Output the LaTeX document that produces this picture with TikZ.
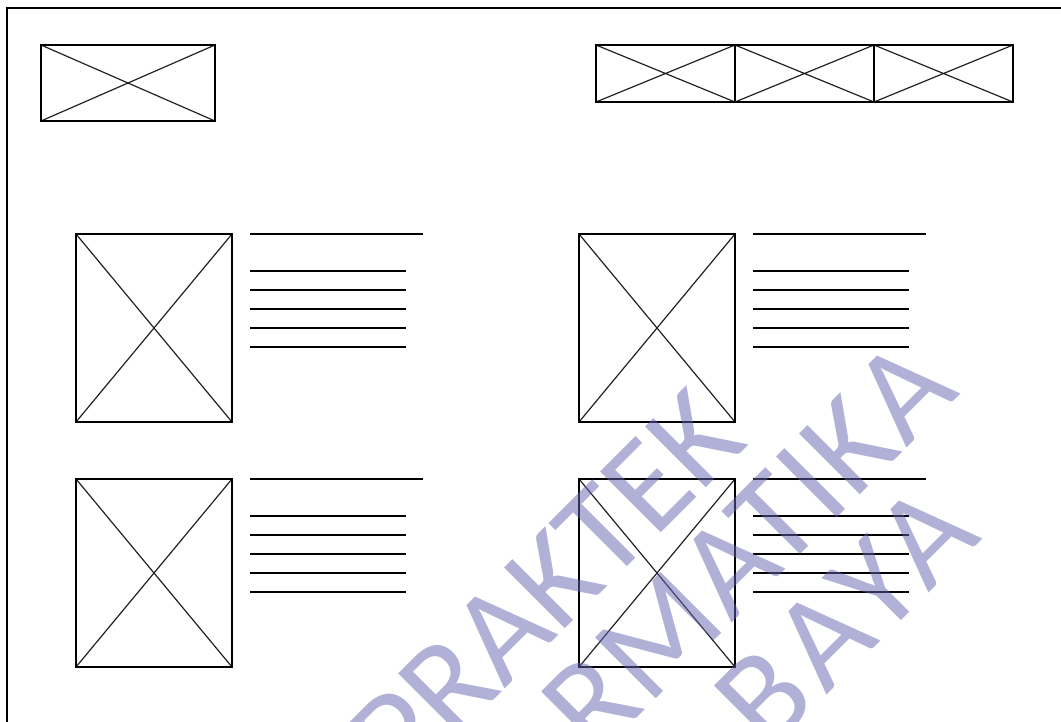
\documentclass[tikz,border=0pt]{standalone}
\usepackage{fontspec}
\usepackage{xcolor}
\usepackage{tikz}
\usetikzlibrary{positioning,calc}
\newfontfamily\wmfont{Carlito}
\definecolor{WmPurple}{RGB}{101,101,178}
\definecolor{CrossGray}{HTML}{222222}

\begin{document}
\begin{tikzpicture}[
    x=1pt, y=-1pt,
    imgbox/.style={draw=black, line width=1.3pt, inner sep=0pt, outer sep=0pt,
        path picture={\draw[CrossGray, line width=1.2pt]
            (path picture bounding box.north west) -- (path picture bounding box.south east)
            (path picture bounding box.south west) -- (path picture bounding box.north east);}},
    logo/.style={imgbox, minimum width=174pt, minimum height=76pt},
    slide/.style={imgbox, minimum width=139pt, minimum height=57pt},
    photo/.style={imgbox, minimum width=156pt, minimum height=188pt},
    rule/.style={line width=1.4pt, draw=black},
    wmark/.style={font=\wmfont\fontsize{134}{134}\selectfont, text=WmPurple, opacity=0.5, inner sep=0pt, rotate=45}
]
\useasboundingbox (0,0) rectangle (1061,722);
\clip (0,0) rectangle (1061,722);
\fill[white] (0,0) rectangle (1061,722);

% page frame
\draw[line width=1.3pt] (7,8) rectangle (1090,760);

% header: logo and slider
\node[logo, anchor=north west] (logo) at (41,45) {};
\node[slide, anchor=north west] (slideA) at (596,45) {};
\node[slide, right=0pt of slideA] (slideB) {};
\node[slide, right=0pt of slideB] (slideC) {};

% content grid
\node[photo, anchor=north west] (photoA) at (76,234) {};
\node[photo, right=347pt of photoA] (photoB) {};
\node[photo, below=57pt of photoA] (photoC) {};
\node[photo, right=347pt of photoC] (photoD) {};

% text lines beside each photo
\foreach \p in {photoA,photoB,photoC,photoD} {
    \draw[rule] ($(\p.north east)+(18,0)$) -- ++(173,0);
    \foreach \k in {0,...,4}
        \draw[rule] ($(\p.north east)+(18,37+19*\k)$) -- ++(156,0);
}

% watermark
\node[wmark, anchor=base east] (wmA) at (750,444) {PRAKTEK};
\node[wmark, anchor=base east] (wmB) at (961,394) {\addfontfeature{LetterSpace=2}RMATIKA};
\node[wmark, anchor=base east] (wmC) at (984,538) {\addfontfeature{LetterSpace=8}BAYA};
\end{tikzpicture}
\end{document}
